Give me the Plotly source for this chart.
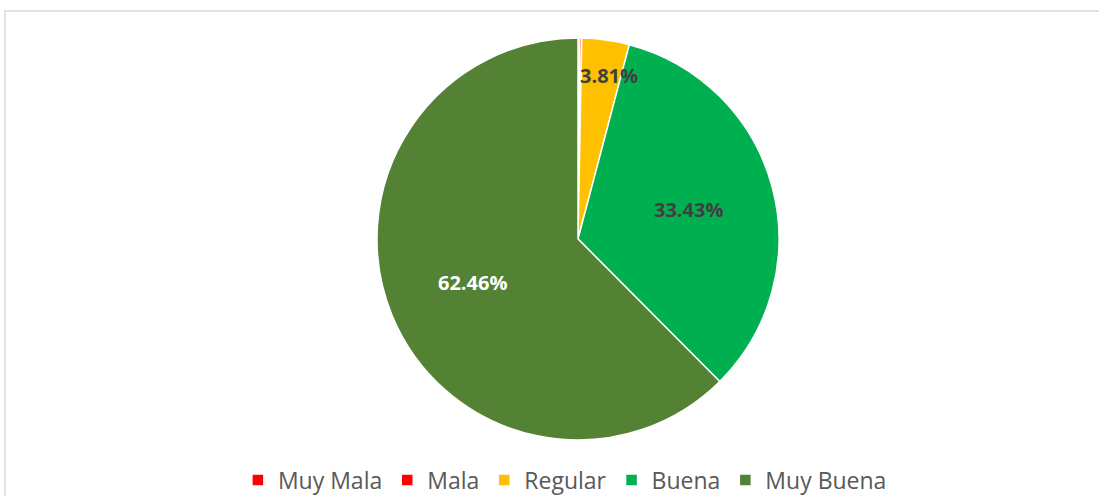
import math
import plotly.graph_objects as go

categories = ["Muy Mala", "Mala", "Regular", "Buena", "Muy Buena"]
values = [0.15, 0.15, 3.81, 33.43, 62.46]
colors = ["#FF0000", "#FF0000", "#FFC000", "#00B050", "#548235"]
label_colors = ["#404040", "#404040", "#404040", "#404040", "#FFFFFF"]
show_label = [False, False, True, True, True]

W, H = 1099, 496
cx, cy, R = 578, 239, 201

fig = go.Figure(go.Pie(
    labels=categories, values=values, sort=False, direction="clockwise", rotation=0,
    marker=dict(colors=colors, line=dict(color="#FFFFFF", width=1.5)),
    textinfo="none", hoverinfo="label+percent",
    domain=dict(x=[(cx - R) / W, (cx + R) / W], y=[1 - (cy + R) / H, 1 - (cy - R) / H]),
))

total = sum(values)
cum = 0.0
annotations = []
for cat, v, tc, show in zip(categories, values, label_colors, show_label):
    mid = (cum + v / 2) / total * 2 * math.pi
    cum += v
    if not show:
        continue
    small = v / total < 0.1
    frac = 0.82 if small else 0.57
    px = cx + frac * R * math.sin(mid) + (8 if small else 0)
    py = cy - frac * R * math.cos(mid)
    annotations.append(dict(
        x=px / W, y=1 - py / H, xref="paper", yref="paper", showarrow=False,
        xanchor="center", yanchor="middle",
        text=f"<b>{v:.2f}%</b>", font=dict(family="Open Sans, sans-serif", size=20, color=tc),
    ))

fig.update_layout(
    width=W, height=H, margin=dict(l=0, r=0, t=0, b=0, autoexpand=False),
    paper_bgcolor="#FFFFFF", plot_bgcolor="#FFFFFF",
    annotations=annotations,
    showlegend=True,
    legend=dict(orientation="h", x=0.514, xanchor="center", y=1 - 480 / H, yanchor="middle",
                font=dict(family="Open Sans, sans-serif", size=23, color="#595959"),
                traceorder="normal"),
    shapes=[dict(type="rect", xref="paper", yref="paper",
                 x0=5 / W, x1=1.05, y0=-0.05, y1=1 - 11 / H,
                 line=dict(color="#D9D9D9", width=1.5), fillcolor="rgba(0,0,0,0)")],
)

fig.write_html("out.html", config={"displayModeBar": False},
               post_script="document.body.style.margin='0';")
